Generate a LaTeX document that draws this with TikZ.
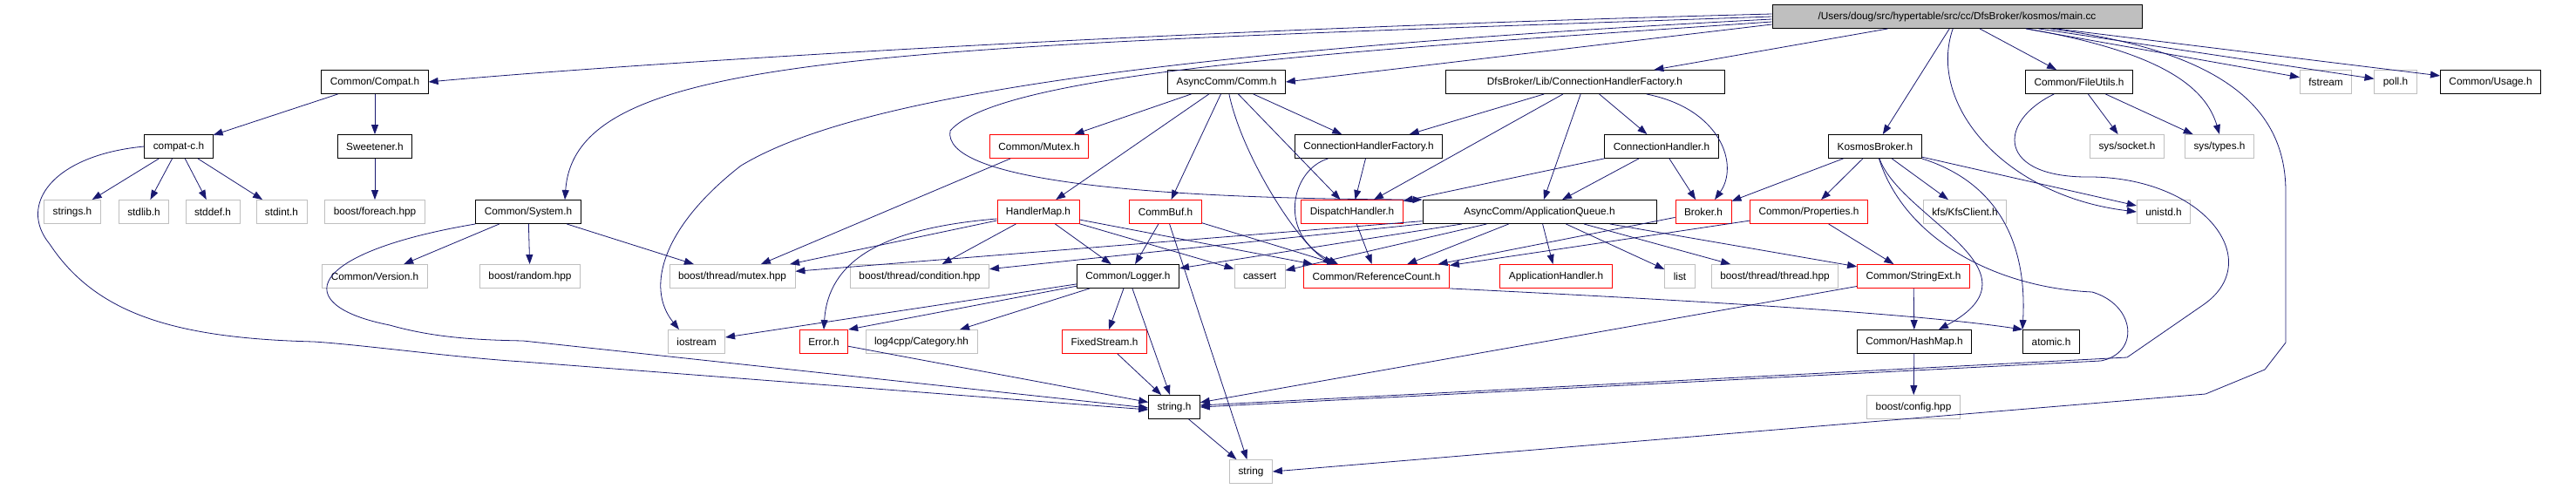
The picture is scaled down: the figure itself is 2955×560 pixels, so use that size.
\documentclass[tikz,border=0pt]{standalone}
\usepackage{fontspec}
\setmainfont{Liberation Sans}
\definecolor{edgeblue}{RGB}{25, 25, 112}
\definecolor{extgray}{RGB}{191, 191, 191}
\definecolor{trunc}{RGB}{255, 0, 0}
\usetikzlibrary{arrows.meta}
\tikzset{
    hfile/.style={
        rectangle, draw=#1, fill=white, text=black,
        minimum height=27pt, inner xsep=10pt, inner ysep=0pt,
        font=\fontsize{11.8}{14}\selectfont, line width=0.9pt
    },
    hfile/.default=black,
    srcfile/.style={hfile, fill=extgray},
    dep/.style={-{Triangle[length=11pt, width=8pt]}, line width=0.8pt, color=edgeblue}
}
\begin{document}
\begin{tikzpicture}[x=1pt, y=-1pt]
    \useasboundingbox (0,0) rectangle (2955,560);

    % The source file
    \node[srcfile, minimum width=424pt] (main) at (2245,19) {/Users/doug/src/hypertable/src/cc/DfsBroker/kosmos/main.cc};

    % Direct includes
    \node[hfile] (compat) at (430,94) {Common/Compat.h};
    \node[hfile] (comm) at (1407,94) {AsyncComm/Comm.h};
    \node[hfile, minimum width=320pt] (dfschf) at (1818,94) {DfsBroker/Lib/ConnectionHandlerFactory.h};
    \node[hfile] (fileutils) at (2385,94) {Common/FileUtils.h};
    \node[hfile=extgray] (fstream) at (2668,94) {fstream};
    \node[hfile=extgray] (poll) at (2748,94) {poll.h};
    \node[hfile] (usage) at (2857,94) {Common/Usage.h};

    % Second level
    \node[hfile] (compatc) at (205,168) {compat-c.h};
    \node[hfile] (sweetener) at (430,168) {Sweetener.h};
    \node[hfile=trunc] (mutex) at (1192,168) {Common/Mutex.h};
    \node[hfile] (chf) at (1570,168) {ConnectionHandlerFactory.h};
    \node[hfile] (connhandler) at (1906,168) {ConnectionHandler.h};
    \node[hfile] (kosmos) at (2151,168) {KosmosBroker.h};
    \node[hfile=extgray] (socket) at (2440,168) {sys/socket.h};
    \node[hfile=extgray] (types) at (2546,168) {sys/types.h};

    % Third level
    \node[hfile=extgray] (strings) at (83,243) {strings.h};
    \node[hfile=extgray] (stdlib) at (165,243) {stdlib.h};
    \node[hfile=extgray] (stddef) at (244,243) {stddef.h};
    \node[hfile=extgray] (stdint) at (323,243) {stdint.h};
    \node[hfile=extgray] (foreach) at (430,243) {boost/foreach.hpp};
    \node[hfile] (system) at (606,243) {Common/System.h};
    \node[hfile=trunc] (handlermap) at (1191,243) {HandlerMap.h};
    \node[hfile=trunc] (commbuf) at (1337,243) {CommBuf.h};
    \node[hfile=trunc] (dispatch) at (1551,243) {DispatchHandler.h};
    \node[hfile, minimum width=268pt] (appqueue) at (1766,243) {AsyncComm/ApplicationQueue.h};
    \node[hfile=trunc] (broker) at (1954,243) {Broker.h};
    \node[hfile=trunc] (properties) at (2075,243) {Common/Properties.h};
    \node[hfile=extgray] (kfsclient) at (2254,243) {kfs/KfsClient.h};
    \node[hfile=extgray] (unistd) at (2482,243) {unistd.h};

    % Fourth level
    \node[hfile=extgray] (version) at (430,317) {Common/Version.h};
    \node[hfile=extgray] (random) at (608,317) {boost/random.hpp};
    \node[hfile=extgray] (bmutex) at (840,317) {boost/thread/mutex.hpp};
    \node[hfile=extgray] (condition) at (1055,317) {boost/thread/condition.hpp};
    \node[hfile] (logger) at (1294,317) {Common/Logger.h};
    \node[hfile=extgray] (cassert) at (1445,317) {cassert};
    \node[hfile=trunc] (refcount) at (1579,317) {Common/ReferenceCount.h};
    \node[hfile=trunc] (apphandler) at (1785,317) {ApplicationHandler.h};
    \node[hfile=extgray] (list) at (1927,317) {list};
    \node[hfile=extgray] (thread) at (2036,317) {boost/thread/thread.hpp};
    \node[hfile=trunc] (stringext) at (2195,317) {Common/StringExt.h};

    % Fifth level and below
    \node[hfile=extgray] (iostream) at (799,392) {iostream};
    \node[hfile=trunc] (error) at (945,392) {Error.h};
    \node[hfile=extgray] (log4cpp) at (1057,392) {log4cpp/Category.hh};
    \node[hfile=trunc] (fixedstream) at (1267,392) {FixedStream.h};
    \node[hfile] (hashmap) at (2196,392) {Common/HashMap.h};
    \node[hfile] (atomic) at (2353,392) {atomic.h};
    \node[hfile] (stringh) at (1347,467) {string.h};
    \node[hfile=extgray] (config) at (2195,467) {boost/config.hpp};
    \node[hfile=extgray] (string) at (1435,541) {string};

    % Includes of main.cc
    \draw[dep] ([yshift=3pt]main.west) .. controls (1300,35) and (700,75) .. (compat.east);
    \draw[dep] (main.west) .. controls (1000,55) and (660,60) .. ([xshift=42pt]system.north);
    \draw[dep] ([yshift=-3pt]main.west) .. controls (1200,65) and (950,130) .. (850,190) .. controls (760,260) and (740,330) .. ([xshift=-20pt]iostream.north);
    \draw[dep] ([yshift=-6pt]main.west) .. controls (1600,55) and (1150,80) .. (1090,150) .. controls (1080,205) and (1300,228) .. (appqueue.north west);
    \draw[dep] ([yshift=-9pt]main.west) -- (comm.east);
    \draw[dep] (main) -- (dfschf);
    \draw[dep] (main) -- (kosmos);
    \draw[dep] (main) .. controls (2210,120) and (2300,225) .. (unistd.west);
    \draw[dep] (main) -- (fileutils);
    \draw[dep] (main) .. controls (2480,60) and (2530,100) .. (types.north);
    \draw[dep] (main) -- (fstream);
    \draw[dep] (main) -- (poll);
    \draw[dep] (main) -- (usage);
    \draw[dep] (main) .. controls (2560,60) and (2622,130) .. (2622,220) -- (2622,393) -- (2598,424) -- (2530,452) -- (string.east);

    % Compat branch
    \draw[dep] (compat) -- (compatc);
    \draw[dep] (compat) -- (sweetener);
    \draw[dep] (compatc) -- (strings);
    \draw[dep] (compatc) -- (stdlib);
    \draw[dep] (compatc) -- (stddef);
    \draw[dep] (compatc) -- (stdint);
    \draw[dep] (compatc.west) .. controls (60,178) and (20,235) .. (57,280) .. controls (110,360) and (200,388) .. (360,392) .. controls (420,396) and (520,410) .. (600,415) -- ([yshift=-3pt]stringh.west);
    \draw[dep] (sweetener) -- (foreach);
    \draw[dep] (system) -- (version);
    \draw[dep] (system) -- (random);
    \draw[dep] (system) -- (bmutex);
    \draw[dep] (system.south west) .. controls (350,290) and (330,350) .. (447,373) .. controls (500,388) and (550,390) .. (600,391) -- ([yshift=-1pt]stringh.west);

    % AsyncComm
    \draw[dep] (comm) -- (mutex);
    \draw[dep] (comm) -- (handlermap);
    \draw[dep] (comm) -- (commbuf);
    \draw[dep] (comm) -- (chf);
    \draw[dep] (comm) -- (dispatch);
    \draw[dep] (comm) .. controls (1425,180) and (1490,280) .. ([xshift=-50pt]refcount.north);
    \draw[dep] (mutex) -- (bmutex);
    \draw[dep] (dfschf) -- (chf);
    \draw[dep] (dfschf) -- (dispatch);
    \draw[dep] (dfschf) -- (appqueue);
    \draw[dep] (dfschf) -- (connhandler);
    \draw[dep] (dfschf) .. controls (1975,125) and (1995,190) .. ([xshift=13pt]broker.north);
    \draw[dep] (chf) -- (dispatch);
    \draw[dep] (chf) .. controls (1480,195) and (1465,270) .. ([xshift=-44pt]refcount.north);
    \draw[dep] (connhandler) -- (dispatch);
    \draw[dep] (connhandler) -- (appqueue);
    \draw[dep] (connhandler) -- (broker);
    \draw[dep] (handlermap) -- (bmutex);
    \draw[dep] ([yshift=-8pt]handlermap.west) .. controls (1010,262) and (950,300) .. (error.north);
    \draw[dep] (handlermap) -- (condition);
    \draw[dep] (handlermap) -- (logger);
    \draw[dep] (handlermap) -- (cassert);
    \draw[dep] (handlermap) -- (refcount);
    \draw[dep] (commbuf) -- (logger);
    \draw[dep] (commbuf) -- (refcount);
    \draw[dep] (commbuf) -- (string);
    \draw[dep] (dispatch) -- (refcount);
    \draw[dep] (appqueue) -- (bmutex);
    \draw[dep] (appqueue) -- (condition);
    \draw[dep] (appqueue) -- (logger);
    \draw[dep] (appqueue) -- (cassert);
    \draw[dep] (appqueue) -- (refcount);
    \draw[dep] (appqueue) -- (apphandler);
    \draw[dep] (appqueue) -- (list);
    \draw[dep] (appqueue) -- (thread);
    \draw[dep] (appqueue) -- (stringext);

    % Kosmos and file utils
    \draw[dep] (fileutils) -- (socket);
    \draw[dep] (fileutils) -- (types);
    \draw[dep] (fileutils) .. controls (2290,140) and (2290,205) .. (2400,203) .. controls (2530,205) and (2600,300) .. (2527,350) -- (2440,410) -- ([yshift=2pt]stringh.east);
    \draw[dep] (kosmos) -- (broker);
    \draw[dep] (kosmos) -- (properties);
    \draw[dep] (kosmos) -- (kfsclient);
    \draw[dep] (kosmos) -- (unistd);
    \draw[dep] (kosmos.south east) .. controls (2300,212) and (2325,290) .. ([xshift=-33pt]atomic.north);
    \draw[dep] (kosmos) .. controls (2180,250) and (2350,310) .. ([xshift=28pt]hashmap.north);
    \draw[dep] (kosmos) .. controls (2185,275) and (2290,330) .. (2400,335) .. controls (2450,350) and (2455,405) .. (2410,414) -- (stringh.east);
    \draw[dep] (broker) -- (refcount);
    \draw[dep] (properties) -- (refcount);
    \draw[dep] (properties) -- (stringext);

    % Common headers
    \draw[dep] (stringext) -- (hashmap);
    \draw[dep] (stringext) -- (stringh);
    \draw[dep] (refcount.south east) .. controls (1950,345) and (2200,360) .. (atomic.north west);
    \draw[dep] (hashmap) -- (config);
    \draw[dep] (logger) -- (iostream);
    \draw[dep] (logger) -- (error.north east);
    \draw[dep] (logger) -- (log4cpp);
    \draw[dep] (logger) -- (fixedstream);
    \draw[dep] (logger) -- (stringh);
    \draw[dep] (error) -- (stringh);
    \draw[dep] (fixedstream) -- (stringh);
    \draw[dep] (stringh) -- (string);

\end{tikzpicture}
\end{document}
